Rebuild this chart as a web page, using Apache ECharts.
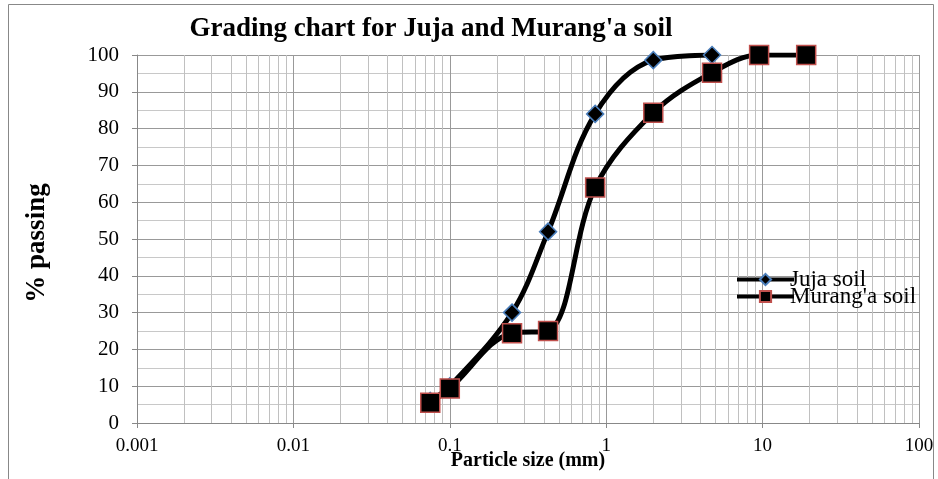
<!DOCTYPE html>
<html><head><meta charset="utf-8">
<script src="https://cdn.jsdelivr.net/npm/echarts@6/dist/echarts.min.js"></script>
<style>html,body{margin:0;padding:0;background:#fff}#c{width:938px;height:479px}</style>
</head><body><div id="c"></div>
<script>
var jujaSize = [0.075, 0.1, 0.25, 0.425, 0.85, 2, 4.75];
var jujaPass = [6, 10, 30, 52, 84, 98.6, 100];
var murangaSize = [0.075, 0.1, 0.25, 0.425, 0.85, 2, 4.75, 9.5, 19];
var murangaPass = [5.5, 9.4, 24.4, 25, 64, 84.3, 95.2, 100, 100];
var xTicks = [0.001, 0.01, 0.1, 1, 10, 100];
var decades = [0.001, 0.01, 0.1, 1, 10];
var minorSteps = [2, 3, 4, 5, 6, 7, 8, 9];
var minorX = [];
decades.forEach(function (d) { minorSteps.forEach(function (k) { minorX.push(+(d * k).toPrecision(3)); }); });

var F = '"Liberation Serif","Times New Roman",serif';
var legendText = { fontFamily: F, fontSize: 23, lineHeight: 20, color: '#000', padding: [0, 0, 0, -9] };
var chart = echarts.init(document.getElementById('c'));
chart.setOption({
  animation: false,
  backgroundColor: '#fff',
  graphic: [{ type: 'rect', shape: { x: 8.5, y: 4.5, width: 925, height: 480 }, style: { fill: 'none', stroke: '#888', lineWidth: 1 }, z: -10 }],
  title: { text: "Grading chart for Juja and Murang'a soil", left: 426, textAlign: 'center', top: 11,
    textStyle: { fontFamily: F, fontWeight: 'bold', fontSize: 27, color: '#000' } },
  legend: [
    { orient: 'vertical', left: 730, top: 263, itemWidth: 57, itemHeight: 14, textStyle: legendText,
      lineStyle: { width: 4, type: 'solid', color: '#000' }, data: ['Juja soil'] },
    { orient: 'vertical', left: 730, top: 280, itemWidth: 57, itemHeight: 14, textStyle: legendText,
      lineStyle: { width: 4, type: 'solid', color: '#000' }, data: ["Murang'a soil"] }
  ],
  grid: { left: 137, right: 19, top: 55, bottom: 56, outerBoundsMode: 'none', containLabel: false },
  xAxis: { type: 'log', logBase: 10, min: 0.001, max: 100,
    name: 'Particle size (mm)', nameLocation: 'middle', nameGap: 28, nameMoveOverlap: false,
    nameTextStyle: { fontFamily: F, fontWeight: 'bold', fontSize: 20, color: '#000' },
    axisLine: { lineStyle: { color: '#888', width: 1 } },
    axisTick: { show: true, length: 5, lineStyle: { color: '#888' } },
    axisLabel: { fontFamily: F, fontSize: 19, color: '#000', margin: 14,
      formatter: function (v) { return String(+v.toPrecision(3)); } },
    splitLine: { show: true, lineStyle: { color: '#999', width: 1 } } },
  yAxis: { type: 'value', min: 0, max: 100, interval: 10,
    name: '% passing', nameLocation: 'middle', nameGap: 86, nameRotate: 90, nameMoveOverlap: false,
    nameTextStyle: { fontFamily: F, fontWeight: 'bold', fontSize: 27, color: '#000', padding: [0, 0, 0, -8] },
    axisLine: { show: true, lineStyle: { color: '#888', width: 1 } },
    axisTick: { show: true, length: 5, lineStyle: { color: '#888' } },
    axisLabel: { fontFamily: F, fontSize: 21, color: '#000', margin: 18 },
    splitLine: { show: true, lineStyle: { color: '#999', width: 1 } },
    minorTick: { show: false, splitNumber: 2 },
    minorSplitLine: { show: true, lineStyle: { color: '#c8c8c8', width: 1 } } },
  series: [
    { name: 'minor', type: 'lines', coordinateSystem: 'cartesian2d', silent: true, z: 1,
      lineStyle: { color: '#c0c0c0', width: 1, opacity: 1 },
      data: minorX.map(function (v) { return { coords: [[v, 0], [v, 100]] }; }) },
    { name: 'Juja soil', type: 'line', z: 3, smooth: 0.35,
      data: jujaSize.map(function (s, i) { return [s, jujaPass[i]]; }),
      symbol: 'diamond', symbolSize: 17,
      itemStyle: { color: '#000', borderColor: '#4a7ebb', borderWidth: 1.5 },
      lineStyle: { color: '#000', width: 5 } },
    { name: "Murang'a soil", type: 'line', z: 4, smooth: 0.35,
      data: murangaSize.map(function (s, i) { return [s, murangaPass[i]]; }),
      symbol: 'rect', symbolSize: 19,
      itemStyle: { color: '#000', borderColor: '#c0504d', borderWidth: 1.5 },
      lineStyle: { color: '#000', width: 5 } }
  ]
});
</script></body></html>
